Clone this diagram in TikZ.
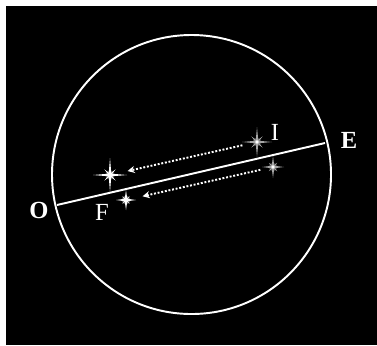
\documentclass[tikz,border=0pt]{standalone}
\usepackage{fontspec}
\setmainfont{Liberation Serif}
\usetikzlibrary{arrows.meta}
\definecolor{skyblack}{RGB}{0,0,0}
\definecolor{stargrey}{RGB}{165,165,165}

\begin{document}
\begin{tikzpicture}[
    x=0.02cm, y=-0.02cm,
    orbit/.style={draw=white, line width=1.1pt},
    lbl/.style={text=white, font=\fontsize{14}{16}\selectfont, inner sep=0pt},
    motion/.style={draw=white, densely dotted, line width=1.1pt,
        -{Stealth[length=4pt,width=4pt]}},
    pics/sparkle/.style n args={3}{code={%
        \fill[#3, opacity=0.3] (0,0) circle (4.5);
        \fill[#3] (0,-#1) -- (1.4,0) -- (0,#1) -- (-1.4,0) -- cycle;
        \fill[#3] (-#1,0) -- (0,1.4) -- (#1,0) -- (0,-1.4) -- cycle;
        \fill[#3, rotate=45] (0,-#2) -- (1.1,0) -- (0,#2) -- (-1.1,0) -- cycle;
        \fill[#3, rotate=45] (-#2,0) -- (0,1.1) -- (#2,0) -- (0,-1.1) -- cycle;
        \fill[white] (0,0) circle (1.8);
    }}
]
\useasboundingbox (0,0) rectangle (377,345);
\fill[skyblack] (6,6) rectangle (377,345);

% celestial sphere and horizon line
\coordinate (centre) at (191.5,174.5);
\draw[orbit] (centre) circle (139.5);
\coordinate (west) at (57,205);
\coordinate (east) at (325,143);
\draw[orbit] (west) -- (east);

% labels
\node[lbl, font=\bfseries\fontsize{14}{16}\selectfont] (O) at (39,210) {O};
\node[lbl, font=\bfseries\fontsize{14}{16}\selectfont] (E) at (349,140) {E};
\node[lbl] (I) at (275,132) {I};
\node[lbl] (F) at (102,212) {F};

% stars
\coordinate (starI) at (257,142);
\coordinate (starO) at (110,175);
\coordinate (starJ) at (273,167);
\coordinate (starF) at (126,200);
\pic at (starO) {sparkle={17}{8}{white}};
\pic at (starI) {sparkle={15}{8}{stargrey}};
\pic at (starJ) {sparkle={11}{6}{stargrey}};
\pic at (starF) {sparkle={10}{5}{white}};

% apparent motion
\draw[motion, shorten <=0.3cm, shorten >=0.36cm] (starI) -- (starO);
\draw[motion, shorten <=0.26cm, shorten >=0.34cm] (starJ) -- (starF);
\end{tikzpicture}
\end{document}
